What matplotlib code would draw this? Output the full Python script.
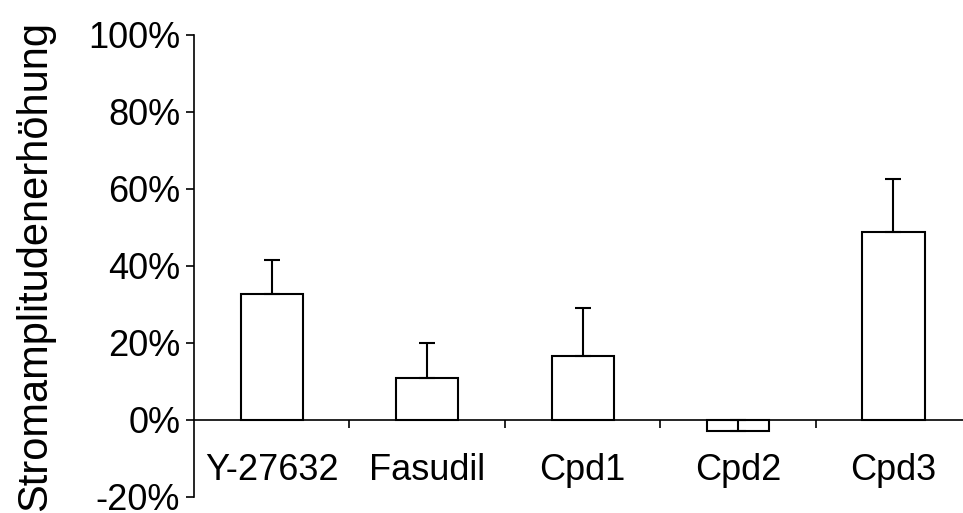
import matplotlib
matplotlib.use("Agg")
import matplotlib.pyplot as plt
from matplotlib.ticker import FuncFormatter

plt.rcParams['font.family'] = ['Liberation Sans', 'DejaVu Sans']

categories = ['Y-27632', 'Fasudil', 'Cpd1', 'Cpd2', 'Cpd3']
values = [32.7, 11.0, 16.7, -2.9, 48.7]
errors = [8.9, 9.0, 12.4, 2.9, 13.8]
yticks = [-20, 0, 20, 40, 60, 80, 100]

fig = plt.figure(figsize=(9.63, 5.13), dpi=100)
ax = fig.add_axes([0.2015, 0.0312, 0.807, 0.9012])

x = range(len(categories))
ax.bar(x, values, width=0.4, color='white', edgecolor='black', linewidth=1.5, zorder=2)
ax.errorbar(x, values, yerr=[[0] * len(errors), errors], fmt='none',
            ecolor='black', elinewidth=1.5, capsize=5.8, capthick=1.5, zorder=3)

ax.set_xlim(-0.5, 4.5)
ax.set_ylim(-20, 100)
ax.set_yticks(yticks)
ax.yaxis.set_major_formatter(FuncFormatter(lambda v, p: '%d%%' % v))

ax.set_xticks(list(x))
ax.set_xticklabels(categories)
ax.set_xticks([0.5, 1.5, 2.5, 3.5, 4.5], minor=True)
ax.tick_params(axis='x', which='major', length=0, pad=24, labelsize=26)
ax.tick_params(axis='x', which='minor', length=6, width=1.2, direction='out')
ax.tick_params(axis='y', length=6, width=1.2, pad=4, labelsize=26)

ax.spines['top'].set_visible(False)
ax.spines['right'].set_visible(False)
ax.spines['bottom'].set_position(('data', 0))
ax.spines['bottom'].set_linewidth(1.2)
ax.spines['left'].set_linewidth(1.2)

ax.set_ylabel('Stromamplitudenerhöhung', fontsize=30, labelpad=24)

fig.savefig('out.png', dpi=100)
